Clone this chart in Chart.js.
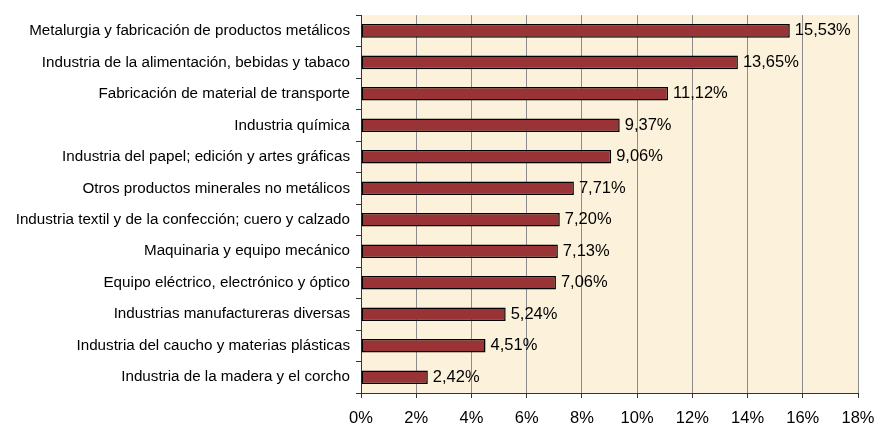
<!DOCTYPE html>
<html>
<head>
<meta charset="utf-8">
<script src="https://cdn.jsdelivr.net/npm/chart.js@4"></script>
<style>
    html, body { margin: 0; padding: 0; background: #fff; }
    .graph-container { width: 877px; height: 428px; position: relative; }
</style>
</head>
<body>
<div class="graph-container"><canvas id="canvas"></canvas></div>
<script>
let labels = [
    "Metalurgia y fabricación de productos metálicos",
    "Industria de la alimentación, bebidas y tabaco",
    "Fabricación de material de transporte",
    "Industria química",
    "Industria del papel; edición y artes gráficas",
    "Otros productos minerales no metálicos",
    "Industria textil y de la confección; cuero y calzado",
    "Maquinaria y equipo mecánico",
    "Equipo eléctrico, electrónico y óptico",
    "Industrias manufactureras diversas",
    "Industria del caucho y materias plásticas",
    "Industria de la madera y el corcho"
];
let values = [15.53, 13.65, 11.12, 9.37, 9.06, 7.71, 7.20, 7.13, 7.06, 5.24, 4.51, 2.42];
let ticks = [0, 2, 4, 6, 8, 10, 12, 14, 16, 18];

let fmt = v => v.toFixed(2).replace(".", ",") + "%";

// cream plot background
let plotBg = {
    id: "plotBg",
    beforeDraw(chart) {
        let a = chart.chartArea, c = chart.ctx;
        c.save();
        c.fillStyle = "#fcf2db";
        c.fillRect(a.left, a.top, a.right - a.left, a.bottom - a.top);
        c.restore();
    }
};

// value labels right of the bars
let barLabels = {
    id: "barLabels",
    afterDatasetsDraw(chart) {
        let c = chart.ctx;
        c.save();
        c.font = "16.5px 'Liberation Sans', Arial, sans-serif";
        c.fillStyle = "#000";
        c.textAlign = "left";
        c.textBaseline = "middle";
        chart.getDatasetMeta(0).data.forEach((bar, i) => {
            c.fillText(fmt(values[i]), bar.x + 5, bar.y);
        });
        c.restore();
    }
};

let canvas = document.getElementById("canvas").getContext("2d");

let chart = new Chart(canvas, {
    type: "bar",
    data: {
        labels: labels,
        datasets: [{
            data: values,
            backgroundColor: "#993335",
            borderColor: "#000",
            borderWidth: 1.5,
            borderSkipped: false,
            barPercentage: 0.43,
            categoryPercentage: 1
        }]
    },
    options: {
        indexAxis: "y",
        responsive: true,
        maintainAspectRatio: false,
        animation: false,
        layout: { padding: { top: 12, right: 19, left: 0, bottom: 0 } },
        scales: {
            x: {
                min: 0,
                max: 18,
                afterBuildTicks: s => { s.ticks = ticks.map(v => ({ value: v })); },
                afterFit: s => {
                    s.height = 35;
                    s.paddingLeft = 0;
                    s.paddingRight = 0;
                },
                grid: {
                    color: "#8c8c8c",
                    lineWidth: 1,
                    tickLength: 5,
                    tickColor: "#333"
                },
                border: { color: "#333", width: 1 },
                ticks: {
                    color: "#000",
                    padding: 11,
                    maxRotation: 0,
                    font: { family: "'Liberation Sans', Arial, sans-serif", size: 16.5 },
                    callback: v => v + "%"
                }
            },
            y: {
                afterFit: s => { s.width = 361; },
                grid: {
                    offset: true,
                    drawOnChartArea: false,
                    tickLength: 5,
                    tickColor: "#333"
                },
                border: { color: "#333", width: 1 },
                ticks: {
                    color: "#000",
                    padding: 6,
                    autoSkip: false,
                    font: { family: "'Liberation Sans', Arial, sans-serif", size: 15.2 }
                }
            }
        },
        plugins: {
            legend: { display: false },
            tooltip: { enabled: false }
        }
    },
    plugins: [plotBg, barLabels]
});
</script>
</body>
</html>
